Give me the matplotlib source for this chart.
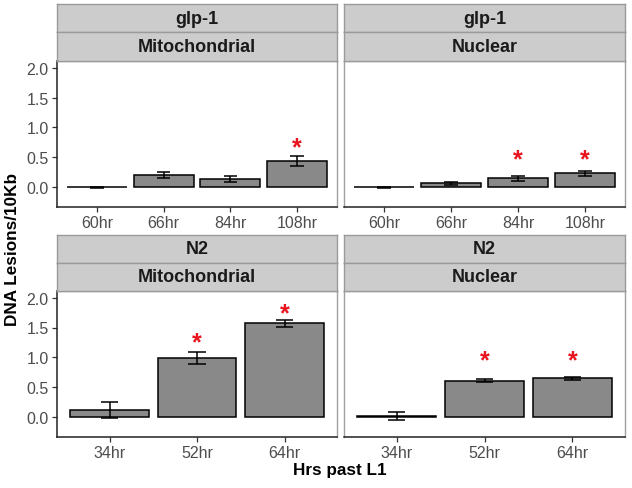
import numpy as np
import matplotlib
matplotlib.use("Agg")
import matplotlib.pyplot as plt

plt.rcParams['font.family'] = ['Liberation Sans', 'DejaVu Sans']

# data
glp1_hours = ["60hr", "66hr", "84hr", "108hr"]
n2_hours = ["34hr", "52hr", "64hr"]

glp1_mito = [0.0, 0.20, 0.14, 0.44]
glp1_mito_err = [0.01, 0.05, 0.045, 0.085]
glp1_mito_star = [None, None, None, 0.80]

glp1_nuc = [0.0, 0.07, 0.15, 0.23]
glp1_nuc_err = [0.01, 0.025, 0.045, 0.04]
glp1_nuc_star = [None, None, 0.59, 0.59]

n2_mito = [0.12, 0.99, 1.57]
n2_mito_err = [0.13, 0.10, 0.055]
n2_mito_star = [None, 1.38, 1.87]

n2_nuc = [0.02, 0.61, 0.65]
n2_nuc_err = [0.06, 0.025, 0.02]
n2_nuc_star = [None, 1.08, 1.08]

panels = [
    ("glp-1", "Mitochondrial", glp1_hours, glp1_mito, glp1_mito_err, glp1_mito_star),
    ("glp-1", "Nuclear", glp1_hours, glp1_nuc, glp1_nuc_err, glp1_nuc_star),
    ("N2", "Mitochondrial", n2_hours, n2_mito, n2_mito_err, n2_mito_star),
    ("N2", "Nuclear", n2_hours, n2_nuc, n2_nuc_err, n2_nuc_star),
]

W, H = 632, 489
fig = plt.figure(figsize=(W / 100, H / 100), dpi=100)

def fx(px):
    return px / W

def fy(px):
    return 1 - px / H

cols = [(57, 337), (344, 625)]
rows = [(5, 33, 62, 208), (236, 264, 292, 438)]
star_size = 18

for k, (strain, comp, hours, vals, errs, stars) in enumerate(panels):
    r, c = divmod(k, 2)
    x0, x1 = cols[c]
    s0, s1, p0, p1 = rows[r]

    ax = fig.add_axes([fx(x0), fy(p1), fx(x1 - x0), (p1 - p0) / H])
    x = np.arange(1, len(hours) + 1)
    ax.bar(x, vals, width=0.9, color="#898989", edgecolor="black", linewidth=1.1, zorder=2)
    lo = np.array(vals) - np.array(errs)
    hi = np.array(vals) + np.array(errs)
    ax.vlines(x, lo, hi, color="black", linewidth=1.1, zorder=3)
    ax.hlines(lo, x - 0.1, x + 0.1, color="black", linewidth=1.1, zorder=3)
    ax.hlines(hi, x - 0.1, x + 0.1, color="black", linewidth=1.1, zorder=3)
    for xi, sy in zip(x, stars):
        if sy is not None:
            ax.annotate("*", (xi, sy), xytext=(0, -0.58 * star_size), textcoords="offset points",
                        ha="center", va="baseline", fontsize=star_size, fontweight="bold",
                        color="#e8141e", zorder=4)

    ax.set_xlim(0.4, len(hours) + 0.6)
    ax.set_ylim(-0.33, 2.11)
    ax.set_xticks(x)
    ax.set_xticklabels(hours)
    ax.set_yticks([0.0, 0.5, 1.0, 1.5, 2.0])
    ax.set_yticklabels(["0.0", "0.5", "1.0", "1.5", "2.0"])
    ax.tick_params(labelsize=11.5, labelcolor="#4d4d4d", length=3.5, width=0.9,
                   color="#333333", pad=2.5)
    if c == 1:
        ax.tick_params(axis="y", left=False, labelleft=False)
    for side in ["top", "right"]:
        ax.spines[side].set_color("#a0a0a0")
        ax.spines[side].set_linewidth(1.0)
    ax.spines["bottom"].set_color("#222222")
    ax.spines["bottom"].set_linewidth(1.1)
    if c == 0:
        ax.spines["left"].set_color("#222222")
        ax.spines["left"].set_linewidth(1.1)
    else:
        ax.spines["left"].set_color("#a0a0a0")
        ax.spines["left"].set_linewidth(1.0)

    for label, a, b in [(strain, s0, s1), (comp, s1, p0)]:
        sax = fig.add_axes([fx(x0), fy(b), fx(x1 - x0), (b - a) / H])
        sax.set_facecolor("#cccccc")
        sax.set_xticks([])
        sax.set_yticks([])
        for sp in sax.spines.values():
            sp.set_color("#9a9a9a")
            sp.set_linewidth(1.0)
        sax.text(0.5, 0.5, label, ha="center", va="center", fontsize=13,
                 fontweight="bold", color="#1a1a1a", transform=sax.transAxes)

fig.text(fx(13), fy(250), "DNA Lesions/10Kb", rotation=90, ha="center", va="center",
         fontsize=12.3, fontweight="bold", color="black")
fig.text(fx(340), fy(471), "Hrs past L1", ha="center", va="center",
         fontsize=12.3, fontweight="bold", color="black")

fig.savefig("out.png", dpi=100)
